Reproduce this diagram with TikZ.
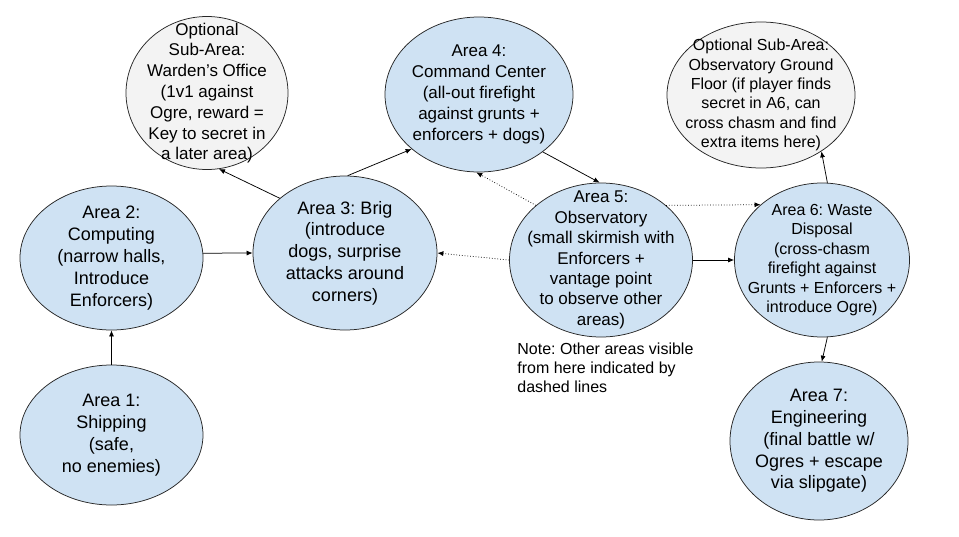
\documentclass[tikz,border=0pt]{standalone}
\usepackage{fontspec}
\setmainfont{Liberation Sans}
\usetikzlibrary{shapes.geometric}
\usetikzlibrary{arrows.meta}
\frenchspacing
\definecolor{areablue}{HTML}{CFE2F3}
\definecolor{optgrey}{HTML}{F3F3F3}
\tikzset{
    area/.style = {ellipse, draw=black!85, line width=0.75pt, fill=areablue, inner sep=0pt},
    optarea/.style = {area, fill=optgrey},
    txtl/.style = {align=center, inner sep=0pt, font=\fontsize{18}{21.8}\selectfont},
    txtm/.style = {align=center, inner sep=0pt, font=\fontsize{17}{20.8}\selectfont},
    txts/.style = {align=center, inner sep=0pt, font=\fontsize{16}{19.4}\selectfont},
}

\begin{document}
\begin{tikzpicture}[
	x=1pt,
	y=-1pt,
	line width=0.75pt
]
\tikzset{
    edgen/.style = {-{Latex[length=6pt,width=5pt]}, black},
    edgev/.style = {edgen, dotted},
}
\useasboundingbox (0,0) rectangle (959,536);
% areas
\node[area, minimum width=183pt, minimum height=140pt] at (111.5,435) (a1) {};
\node[area, minimum width=183pt, minimum height=144pt] at (111.5,258) (a2) {};
\node[area, minimum width=184pt, minimum height=154pt] at (345,253) (a3) {};
\node[optarea, minimum width=162pt, minimum height=153pt] at (207,93) (office) {};
\node[area, minimum width=188pt, minimum height=155pt] at (479,94.5) (a4) {};
\node[area, minimum width=183pt, minimum height=154pt] at (601,260) (a5) {};
\node[area, minimum width=175pt, minimum height=154pt] at (822,260) (a6) {};
\node[optarea, minimum width=188pt, minimum height=146pt] at (761,95) (floor) {};
\node[area, minimum width=178pt, minimum height=158pt] at (819,441) (a7) {};
% texts
\node[txtl] at (a1) (t1) {Area 1:\\Shipping\\(safe,\\no enemies)};
\node[txtl] at (a2) (t2) {Area 2:\\Computing\\(narrow halls,\\Introduce\\Enforcers)};
\node[txtl] at (a3) (t3) {Area 3: Brig\\(introduce\\dogs, surprise\\attacks around\\corners)};
\node[txtm] at (office) (toffice) {Optional\\Sub-Area:\\Warden’s Office\\(1v1 against\\Ogre, reward =\\Key to secret in\\a later area)};
\node[txtm] at (a4) (t4) {Area 4:\\Command Center\\(all-out firefight\\against grunts +\\enforcers + dogs)};
\node[txtm, font=\fontsize{17}{20.4}\selectfont] at (a5) (t5) {Area 5:\\Observatory\\(small skirmish with\\Enforcers +\\vantage point\\to observe other\\areas)};
\node[txts] at (a6) (t6) {Area 6: Waste\\Disposal\\(cross-chasm\\firefight against\\Grunts + Enforcers +\\introduce Ogre)};
\node[txts] at (floor) (tfloor) {Optional Sub-Area:\\Observatory Ground\\Floor (if player finds\\secret in A6, can\\cross chasm and find\\extra items here)};
\node[txtl] at (a7) (t7) {Area 7:\\Engineering\\(final battle w/\\Ogres + escape\\via slipgate)};
\node[txts, align=left, anchor=north west, font=\fontsize{16}{19}\selectfont] at (517,343) (note) {Note: Other areas visible\\from here indicated by\\dashed lines};
% paths
\draw[edgen] (a1.north) to (a2.south);
\draw[edgen] (a2.3) to (a3.west);
\draw[edgen] (a3.140) to (office.279);
\draw[edgen] (a3.88) to (a4.219);
\draw[edgen] (a4.318) to (a5.91);
\draw[edgen] (a5.east) to (a6.west);
\draw[edgen] (a6.86) to (floor.317);
\draw[edgen] (a6.274) to (a7.88);
% seen from the observatory
\draw[edgev] (a5.140) to (a4.268);
\draw[edgev] (a5.west) to (a3.east);
\draw[edgev] (a5.40) to (a6.138);

\end{tikzpicture}
\end{document}
